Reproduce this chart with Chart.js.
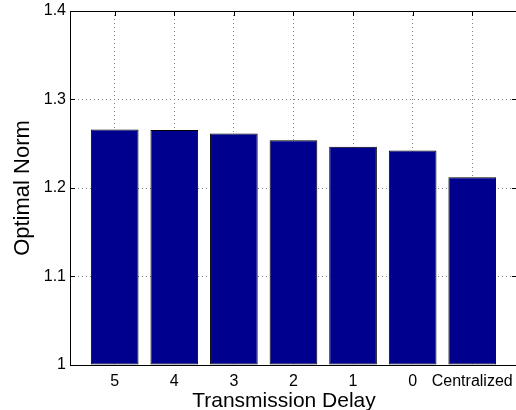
<!DOCTYPE html>
<html>
<head>
<meta charset="utf-8">
<script src="https://cdn.jsdelivr.net/npm/chart.js@4.4.1/dist/chart.umd.min.js"></script>
<style>
  html, body { margin: 0; padding: 0; background: #fff; overflow: hidden; }
  #wrap { width: 520px; height: 410px; }
</style>
</head>
<body>
<div id="wrap"><canvas id="chart"></canvas></div>
<script>
const delays = ["5", "4", "3", "2", "1", "0", "Centralized"];
const norms = [1.266, 1.2655, 1.2617, 1.254, 1.2467, 1.2425, 1.2121];
const yTicks = [1, 1.1, 1.2, 1.3, 1.4];
const xTitle = "Transmission Delay";

const FONT = "'Liberation Sans', Arial, Helvetica, sans-serif";

// matlab style box, inward ticks and the x label (matlab puts it a bit left of centre)
const boxPlugin = {
  id: "box",
  afterDraw(chart) {
    const { ctx, chartArea: a, scales } = chart;
    ctx.save();
    ctx.strokeStyle = "#000";
    ctx.lineWidth = 1;
    ctx.beginPath();
    yTicks.forEach(v => {
      const y = Math.round(scales.y.getPixelForValue(v)) + 0.5;
      ctx.moveTo(a.left, y); ctx.lineTo(a.left + 5, y);
      ctx.moveTo(a.right, y); ctx.lineTo(a.right - 5, y);
    });
    delays.forEach((d, i) => {
      const x = Math.round(scales.x.getPixelForValue(i + 1)) + 0.5;
      ctx.moveTo(x, a.top); ctx.lineTo(x, a.top + 5);
    });
    const l = Math.round(a.left) + 0.5, t = Math.round(a.top) + 0.5, b = Math.round(a.bottom) + 0.5;
    ctx.moveTo(l, t); ctx.lineTo(a.right, t);
    ctx.moveTo(l, t); ctx.lineTo(l, b); ctx.lineTo(a.right, b);
    ctx.stroke();

    ctx.fillStyle = "#000";
    ctx.font = "21px " + FONT;
    ctx.textAlign = "center";
    ctx.textBaseline = "alphabetic";
    ctx.fillText(xTitle, 284, 407);
    ctx.restore();
  }
};

new Chart(document.getElementById("chart"), {
  type: "bar",
  data: {
    datasets: [{
      data: norms.map((v, i) => ({ x: i + 1, y: v })),
      backgroundColor: "#00008f",
      borderColor: "#000",
      borderWidth: 1,
      borderSkipped: false,
      base: 1,
      barPercentage: 0.8,
      categoryPercentage: 1
    }]
  },
  options: {
    responsive: true,
    maintainAspectRatio: false,
    animation: false,
    layout: { padding: { top: 11, right: 3, left: 0, bottom: 0 } },
    plugins: { legend: { display: false }, tooltip: { enabled: false } },
    scales: {
      x: {
        type: "linear",
        min: 0.25,
        max: 7.75,
        offset: false,
        afterBuildTicks: s => { s.ticks = delays.map((d, i) => ({ value: i + 1 })); },
        afterFit: s => { s.height = 45; },
        ticks: {
          autoSkip: false,
          maxRotation: 0,
          padding: 7,
          color: "#000",
          font: { family: FONT, size: 16 },
          callback: v => delays[v - 1]
        },
        grid: {
          offset: false,
          drawTicks: false,
          color: "#808080",
          lineWidth: 1
        },
        border: { display: false, dash: [1, 3] }
      },
      y: {
        min: 1,
        max: 1.4,
        afterBuildTicks: s => { s.ticks = yTicks.map(v => ({ value: v })); },
        afterFit: s => { s.width = 70; s.paddingTop = 0; s.paddingBottom = 0; },
        ticks: {
          padding: 4,
          color: "#000",
          font: { family: FONT, size: 16 },
          callback: v => String(+v.toFixed(1))
        },
        grid: { drawTicks: false, color: "#808080", lineWidth: 1 },
        border: { display: false, dash: [1, 3] },
        title: {
          display: true,
          text: "Optimal Norm",
          color: "#000",
          font: { family: FONT, size: 22, lineHeight: 1 },
          padding: { top: 12, bottom: 0 }
        }
      }
    }
  },
  plugins: [boxPlugin]
});
</script>
</body>
</html>
